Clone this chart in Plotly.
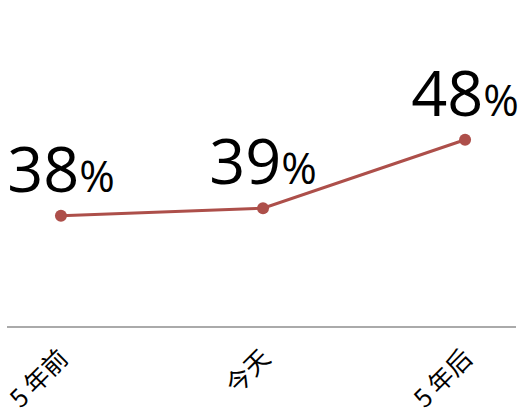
import plotly.graph_objects as go

categories = ["5 年前", "今天", "5 年后"]
values = [38, 39, 48]
labels = ["38", "39", "48"]

line_color = "#ad4f4a"

fig = go.Figure()
fig.add_trace(go.Scatter(
    x=categories,
    y=values,
    mode="lines+markers+text",
    line=dict(color=line_color, width=3),
    marker=dict(color=line_color, size=12),
    text=[f"{l}<span style='font-size:43px'>%</span>" for l in labels],
    textposition="top center",
    textfont=dict(family="Open Sans", size=63, color="black"),
    cliponaxis=False,
    hoverinfo="skip",
))

fig.update_layout(
    width=522,
    height=414,
    margin=dict(l=7, r=6, t=20, b=88),
    paper_bgcolor="white",
    plot_bgcolor="white",
    showlegend=False,
    xaxis=dict(
        type="category",
        range=[-0.267, 2.252],
        automargin=False,
        showgrid=False,
        zeroline=False,
        showline=True,
        linecolor="#aaaaaa",
        linewidth=1.5,
        ticks="",
        tickangle=-45,
        ticklabelstandoff=6,
        tickfont=dict(family="Noto Sans CJK SC", size=25, color="black"),
    ),
    yaxis=dict(
        range=[23.5, 63.76],
        automargin=False,
        showgrid=False,
        zeroline=False,
        showline=False,
        showticklabels=False,
        ticks="",
    ),
)

fig.write_html("out.html", config={"displayModeBar": False},
               post_script="document.body.style.margin='0';")
